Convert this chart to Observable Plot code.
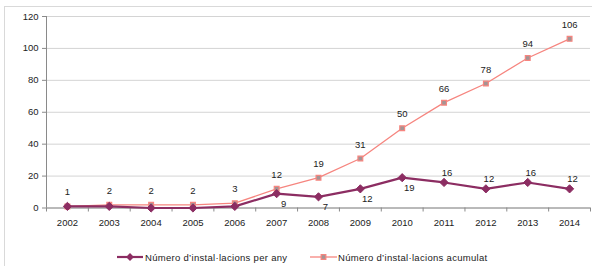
<!DOCTYPE html>
<html>
<head>
<meta charset="utf-8">
<script src="https://cdn.jsdelivr.net/npm/d3@7"></script>
<script src="https://cdn.jsdelivr.net/npm/@observablehq/plot@0.6"></script>
<style>
  html, body { margin: 0; padding: 0; background: #fff; }
  body { width: 592px; height: 266px; position: relative; overflow: hidden; font-family: "Liberation Sans", Arial, sans-serif; }
  #frame { position: absolute; left: 4px; top: 6px; width: 600px; height: 300px; border-left: 1.5px solid #d9d9d9; border-top: 1.5px solid #d9d9d9; box-sizing: border-box; }
  #chart { position: absolute; left: 0; top: 0; }
  #legend { position: absolute; left: 0; top: 248px; width: 592px; height: 18px; font-size: 9.5px; color: #222; }
  .item { position: absolute; top: 0; display: flex; align-items: center; height: 18px; letter-spacing: 0.3px; }
  .item svg { display: block; margin-right: 1px; }
</style>
</head>
<body>
<div id="frame"></div>
<div id="chart"></div>
<div id="legend"></div>
<script>
const years = [2002, 2003, 2004, 2005, 2006, 2007, 2008, 2009, 2010, 2011, 2012, 2013, 2014];
const perYear = [1, 1, 0, 0, 1, 9, 7, 12, 19, 16, 12, 16, 12];
const cumulative = [1, 2, 2, 2, 3, 12, 19, 31, 50, 66, 78, 94, 106];
const yTicks = [0, 20, 40, 60, 80, 100, 120];
const seriesNames = ["Número d’instal·lacions per any", "Número d’instal·lacions acumulat"];
const perYearLabelsBelow = [2007, 2008, 2009, 2010];
const perYearLabelsAbove = [2011, 2012, 2013, 2014];

const colPer = "#8c2d62";
const colCum = "#f6857f";
const colSq = "#a39494";

const rowsPer = years.map((y, i) => ({year: y, value: perYear[i]}));
const rowsCum = years.map((y, i) => ({year: y, value: cumulative[i]}));
const boundaries = years.map(y => y - 0.5).concat([years[years.length - 1] + 0.5]);

const chart = Plot.plot({
  width: 592,
  height: 240,
  marginTop: 16,
  marginBottom: 32.5,
  marginLeft: 46,
  marginRight: 2,
  style: {fontFamily: "Liberation Sans, Arial, sans-serif", fontSize: "9.5px", color: "#222", background: "transparent"},
  x: {domain: [years[0] - 0.5, years[years.length - 1] + 0.5], axis: null},
  y: {domain: [0, 120], axis: null},
  marks: [
    Plot.gridY(yTicks, {stroke: "#d4d4d4", strokeOpacity: 1, strokeWidth: 1}),
    Plot.axisY(yTicks, {tickSize: 4, tickPadding: 4, stroke: "#8a8a8a", label: null}),
    Plot.ruleX([years[0] - 0.5], {stroke: "#8a8a8a"}),
    Plot.ruleY([0], {stroke: "#8a8a8a"}),
    Plot.ruleX(boundaries, {x: d => d, y1: 0, y2: 0, insetTop: 0, insetBottom: -4, stroke: "#8a8a8a"}),
    Plot.axisX(years, {tickSize: 0, tickPadding: 11, tickFormat: d => String(d), label: null}),
    Plot.line(rowsCum, {x: "year", y: "value", stroke: colCum, strokeWidth: 1.3}),
    Plot.line(rowsPer, {x: "year", y: "value", stroke: colPer, strokeWidth: 2.2}),
    Plot.dot(rowsCum, {x: "year", y: "value", symbol: "square", r: 2.7, fill: colSq, stroke: colCum, strokeWidth: 1.2}),
    Plot.dot(rowsPer, {x: "year", y: "value", symbol: "diamond2", r: 3.7, fill: colPer, stroke: colPer, strokeWidth: 1}),
    Plot.text(rowsCum, {x: "year", y: "value", text: d => String(d.value), dy: -14, fill: "#222"}),
    Plot.text(rowsPer.filter(d => perYearLabelsBelow.includes(d.year)), {x: "year", y: "value", text: d => String(d.value), dx: 7, dy: 10, fill: "#222"}),
    Plot.text(rowsPer.filter(d => perYearLabelsAbove.includes(d.year)), {x: "year", y: "value", text: d => String(d.value), dx: 3, dy: -10, fill: "#222"})
  ]
});
document.getElementById("chart").appendChild(chart);

// Legend
const legend = document.getElementById("legend");
const legendItems = [
  {name: seriesNames[0], left: 117, draw: (g) => {
    g.append("line").attr("x1", 0).attr("x2", 26).attr("y1", 9).attr("y2", 9).attr("stroke", colPer).attr("stroke-width", 2.2);
    g.append("path").attr("d", d3.symbol(d3.symbolDiamond2, 40)()).attr("transform", "translate(13,9)").attr("fill", colPer);
  }},
  {name: seriesNames[1], left: 310, draw: (g) => {
    g.append("line").attr("x1", 0).attr("x2", 27).attr("y1", 9).attr("y2", 9).attr("stroke", colCum).attr("stroke-width", 1.3);
    g.append("path").attr("d", d3.symbol(d3.symbolSquare, 22)()).attr("transform", "translate(13.5,9)").attr("fill", colSq).attr("stroke", colCum).attr("stroke-width", 1.2);
  }}
];
legendItems.forEach(it => {
  const div = d3.select(legend).append("div").attr("class", "item").style("left", it.left + "px");
  const svg = div.append("svg").attr("width", 27).attr("height", 18);
  it.draw(svg);
  div.append("span").text(it.name);
});
</script>
</body>
</html>
